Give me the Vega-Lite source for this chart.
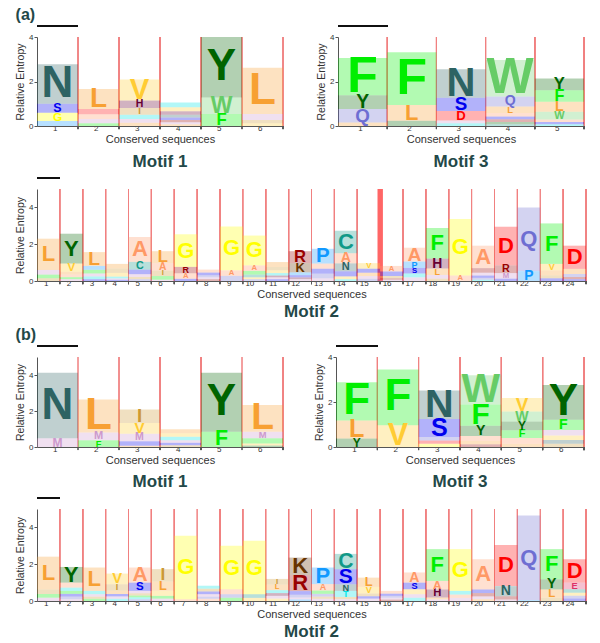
{
"$schema":"https://vega.github.io/schema/vega-lite/v6.json",
"background":"white",
"padding":{"left":15,"top":7,"right":5,"bottom":5},
"spacing":7,
"resolve":{"scale":{"size":"independent"}},
"config":{"view":{"stroke":null},"font":"Liberation Sans","axis":{"labelFont":"Liberation Sans","titleFont":"Liberation Sans"},"title":{"font":"Liberation Sans"}},
"vconcat":[
{"hconcat":[
{"width":246,"height":89,
"title":{"text":"Motif 1","orient":"bottom","fontSize":17,"fontWeight":"bold","color":"#234848","offset":10},
"data":{"values":[
{"pos":1,"aa":"P","bits":0.22},{"pos":1,"aa":"G","bits":0.38},{"pos":1,"aa":"S","bits":0.4},{"pos":1,"aa":"N","bits":1.77},
{"pos":2,"aa":"F","bits":0.12},{"pos":2,"aa":"M","bits":0.2},{"pos":2,"aa":"A","bits":0.21},{"pos":2,"aa":"D","bits":0.23},{"pos":2,"aa":"L","bits":0.9},
{"pos":3,"aa":"L","bits":0.15},{"pos":3,"aa":"M","bits":0.16},{"pos":3,"aa":"T","bits":0.2},{"pos":3,"aa":"I","bits":0.3},{"pos":3,"aa":"H","bits":0.34},{"pos":3,"aa":"V","bits":0.94},
{"pos":4,"aa":"L","bits":0.08},{"pos":4,"aa":"M","bits":0.09},{"pos":4,"aa":"R","bits":0.1},{"pos":4,"aa":"S","bits":0.11},{"pos":4,"aa":"N","bits":0.13},{"pos":4,"aa":"H","bits":0.15},{"pos":4,"aa":"V","bits":0.18},{"pos":4,"aa":"T","bits":0.22},
{"pos":5,"aa":"F","bits":0.54},{"pos":5,"aa":"W","bits":0.74},{"pos":5,"aa":"Y","bits":2.72},
{"pos":6,"aa":"V","bits":0.12},{"pos":6,"aa":"I","bits":0.15},{"pos":6,"aa":"M","bits":0.27},{"pos":6,"aa":"L","bits":2.08}
]},
"transform":[{"stack":"bits","groupby":["pos"],"sort":[{"field":"bits","order":"ascending"}],"as":["b0","b1"]}],
"layer":[
{"mark":{"type":"rule","color":"#f08080","strokeWidth":1},"encoding":{"x":{"field":"pos","type":"ordinal","bandPosition":1,"title":"Conserved sequences"}}},
{"mark":{"type":"rule","color":"#555","strokeWidth":1,"clip":false},"encoding":{"x":{"field":"pos","type":"ordinal","bandPosition":1,"title":"Conserved sequences"},"y":{"datum":0,"type":"quantitative"},"y2":{"datum":-0.14}}},
{"mark":{"type":"bar","fillOpacity":0.3},"encoding":{
"x":{"field":"pos","type":"ordinal","scale":{"paddingInner":0,"paddingOuter":0},"axis":{"title":"Conserved sequences","titleFontSize":11,"titleFontWeight":"normal","titleColor":"#333","titlePadding":1,"labelFontSize":8,"labelAngle":0,"labelColor":"#333","labelPadding":2,"ticks":false,"domainColor":"#555","grid":false}},
"y":{"field":"b0","type":"quantitative","scale":{"domain":[0,4],"nice":false},"axis":{"title":"Relative Entropy","titleFontSize":10.5,"titleFontWeight":"normal","titleColor":"#333","titlePadding":3,"labelFontSize":8,"labelColor":"#333","labelPadding":1,"labelOverlap":false,"tickSize":3,"tickColor":"#555","domainColor":"#555","values":[0,1,2,3,4],"grid":false}},
"y2":{"field":"b1"},
"color":{"field":"aa","type":"nominal","legend":null,"scale":{"domain":["A","C","D","E","F","G","H","I","K","L","M","N","P","Q","R","S","T","V","W","Y"],"range":["#ff9966","#119988","#ff0000","#dd3366","#00ee00","#ffff00","#660033","#cc9933","#663300","#f7a033","#cc99cc","#2d6363","#1199ff","#6e6ed2","#990000","#0000ee","#00e5e5","#ffcc33","#66cc66","#006400"]}}}},
{"transform":[{"filter":"datum.bits >= 0.3"},{"fold":["b0","b1"],"as":["edge","yv"]},{"aggregate":[{"op":"mean","field":"yv","as":"ymid"},{"op":"max","field":"bits","as":"h"}],"groupby":["pos","aa"]}],
"mark":{"type":"text","fontWeight":"bold","baseline":"middle","align":"center"},"encoding":{
"x":{"field":"pos","type":"ordinal","title":"Conserved sequences"},
"y":{"field":"ymid","type":"quantitative","title":"Relative Entropy"},
"text":{"field":"aa"},
"size":{"field":"h","type":"quantitative","scale":{"type":"linear","domain":[0,1.416],"range":[0,44],"clamp":true},"legend":null},
"color":{"field":"aa","type":"nominal","legend":null}}},
{"mark":{"type":"bar","color":"#111","clip":false},"encoding":{"x":{"datum":1,"type":"ordinal"},"y":{"datum":4.46,"type":"quantitative"},"y2":{"datum":4.53}}}
]},
{"width":246,"height":89,
"title":{"text":"Motif 3","orient":"bottom","fontSize":17,"fontWeight":"bold","color":"#234848","offset":10},
"data":{"values":[
{"pos":1,"aa":"L","bits":0.16},{"pos":1,"aa":"Q","bits":0.6},{"pos":1,"aa":"Y","bits":0.62},{"pos":1,"aa":"F","bits":1.68},
{"pos":2,"aa":"Y","bits":0.24},{"pos":2,"aa":"L","bits":0.7},{"pos":2,"aa":"F","bits":2.38},
{"pos":3,"aa":"T","bits":0.12},{"pos":3,"aa":"M","bits":0.13},{"pos":3,"aa":"D","bits":0.42},{"pos":3,"aa":"S","bits":0.6},{"pos":3,"aa":"N","bits":1.28},
{"pos":4,"aa":"C","bits":0.08},{"pos":4,"aa":"Y","bits":0.1},{"pos":4,"aa":"R","bits":0.12},{"pos":4,"aa":"S","bits":0.13},{"pos":4,"aa":"A","bits":0.15},{"pos":4,"aa":"L","bits":0.3},{"pos":4,"aa":"Q","bits":0.45},{"pos":4,"aa":"W","bits":1.64},
{"pos":5,"aa":"T","bits":0.08},{"pos":5,"aa":"S","bits":0.1},{"pos":5,"aa":"A","bits":0.11},{"pos":5,"aa":"W","bits":0.35},{"pos":5,"aa":"L","bits":0.45},{"pos":5,"aa":"F","bits":0.52},{"pos":5,"aa":"Y","bits":0.53}
]},
"transform":[{"stack":"bits","groupby":["pos"],"sort":[{"field":"bits","order":"ascending"}],"as":["b0","b1"]}],
"layer":[
{"mark":{"type":"rule","color":"#f08080","strokeWidth":1},"encoding":{"x":{"field":"pos","type":"ordinal","bandPosition":1,"title":"Conserved sequences"}}},
{"mark":{"type":"rule","color":"#555","strokeWidth":1,"clip":false},"encoding":{"x":{"field":"pos","type":"ordinal","bandPosition":1,"title":"Conserved sequences"},"y":{"datum":0,"type":"quantitative"},"y2":{"datum":-0.14}}},
{"mark":{"type":"bar","fillOpacity":0.3},"encoding":{
"x":{"field":"pos","type":"ordinal","scale":{"paddingInner":0,"paddingOuter":0},"axis":{"title":"Conserved sequences","titleFontSize":11,"titleFontWeight":"normal","titleColor":"#333","titlePadding":1,"labelFontSize":8,"labelAngle":0,"labelColor":"#333","labelPadding":2,"ticks":false,"domainColor":"#555","grid":false}},
"y":{"field":"b0","type":"quantitative","scale":{"domain":[0,4],"nice":false},"axis":{"title":"Relative Entropy","titleFontSize":10.5,"titleFontWeight":"normal","titleColor":"#333","titlePadding":3,"labelFontSize":8,"labelColor":"#333","labelPadding":1,"labelOverlap":false,"tickSize":3,"tickColor":"#555","domainColor":"#555","values":[0,1,2,3,4],"grid":false}},
"y2":{"field":"b1"},
"color":{"field":"aa","type":"nominal","legend":null,"scale":{"domain":["A","C","D","E","F","G","H","I","K","L","M","N","P","Q","R","S","T","V","W","Y"],"range":["#ff9966","#119988","#ff0000","#dd3366","#00ee00","#ffff00","#660033","#cc9933","#663300","#f7a033","#cc99cc","#2d6363","#1199ff","#6e6ed2","#990000","#0000ee","#00e5e5","#ffcc33","#66cc66","#006400"]}}}},
{"transform":[{"filter":"datum.bits >= 0.3"},{"fold":["b0","b1"],"as":["edge","yv"]},{"aggregate":[{"op":"mean","field":"yv","as":"ymid"},{"op":"max","field":"bits","as":"h"}],"groupby":["pos","aa"]}],
"mark":{"type":"text","fontWeight":"bold","baseline":"middle","align":"center"},"encoding":{
"x":{"field":"pos","type":"ordinal","title":"Conserved sequences"},
"y":{"field":"ymid","type":"quantitative","title":"Relative Entropy"},
"text":{"field":"aa"},
"size":{"field":"h","type":"quantitative","scale":{"type":"linear","domain":[0,1.598],"range":[0,50],"clamp":true},"legend":null},
"color":{"field":"aa","type":"nominal","legend":null}}},
{"mark":{"type":"bar","color":"#111","clip":false},"encoding":{"x":{"datum":1,"type":"ordinal"},"y":{"datum":4.46,"type":"quantitative"},"y2":{"datum":4.53}}}
]}
],"spacing":32,"resolve":{"scale":{"size":"independent"}},"title":{"text":"(a)","anchor":"start","frame":"bounds","fontSize":16,"fontWeight":"bold","color":"#234848","offset":2}},
{"width":549,"height":92,
"title":{"text":"Motif 2","orient":"bottom","fontSize":17,"fontWeight":"bold","color":"#234848","offset":5},
"data":{"values":[
{"pos":1,"aa":"I","bits":0.15},{"pos":1,"aa":"F","bits":0.2},{"pos":1,"aa":"M","bits":0.25},{"pos":1,"aa":"L","bits":1.7},
{"pos":2,"aa":"M","bits":0.1},{"pos":2,"aa":"F","bits":0.11},{"pos":2,"aa":"A","bits":0.14},{"pos":2,"aa":"L","bits":0.15},{"pos":2,"aa":"V","bits":0.45},{"pos":2,"aa":"Y","bits":1.62},
{"pos":3,"aa":"S","bits":0.1},{"pos":3,"aa":"T","bits":0.15},{"pos":3,"aa":"M","bits":0.16},{"pos":3,"aa":"F","bits":0.2},{"pos":3,"aa":"P","bits":0.21},{"pos":3,"aa":"L","bits":0.75},
{"pos":4,"aa":"S","bits":0.07},{"pos":4,"aa":"M","bits":0.07},{"pos":4,"aa":"T","bits":0.1},{"pos":4,"aa":"V","bits":0.2},{"pos":4,"aa":"I","bits":0.24},{"pos":4,"aa":"L","bits":0.25},
{"pos":5,"aa":"Q","bits":0.1},{"pos":5,"aa":"I","bits":0.12},{"pos":5,"aa":"M","bits":0.15},{"pos":5,"aa":"S","bits":0.25},{"pos":5,"aa":"C","bits":0.42},{"pos":5,"aa":"A","bits":1.35},
{"pos":6,"aa":"M","bits":0.07},{"pos":6,"aa":"F","bits":0.2},{"pos":6,"aa":"I","bits":0.3},{"pos":6,"aa":"A","bits":0.4},{"pos":6,"aa":"L","bits":0.65},
{"pos":7,"aa":"S","bits":0.12},{"pos":7,"aa":"A","bits":0.3},{"pos":7,"aa":"R","bits":0.35},{"pos":7,"aa":"G","bits":1.77},
{"pos":8,"aa":"R","bits":0.1},{"pos":8,"aa":"M","bits":0.1},{"pos":8,"aa":"Q","bits":0.11},{"pos":8,"aa":"S","bits":0.15},{"pos":8,"aa":"A","bits":0.16},
{"pos":9,"aa":"Q","bits":0.28},{"pos":9,"aa":"A","bits":0.3},{"pos":9,"aa":"G","bits":2.38},
{"pos":10,"aa":"Q","bits":0.1},{"pos":10,"aa":"V","bits":0.1},{"pos":10,"aa":"C","bits":0.15},{"pos":10,"aa":"F","bits":0.2},{"pos":10,"aa":"A","bits":0.3},{"pos":10,"aa":"G","bits":1.62},
{"pos":11,"aa":"S","bits":0.1},{"pos":11,"aa":"M","bits":0.1},{"pos":11,"aa":"H","bits":0.1},{"pos":11,"aa":"T","bits":0.13},{"pos":11,"aa":"V","bits":0.15},{"pos":11,"aa":"I","bits":0.18},{"pos":11,"aa":"L","bits":0.27},
{"pos":12,"aa":"M","bits":0.1},{"pos":12,"aa":"H","bits":0.1},{"pos":12,"aa":"S","bits":0.12},{"pos":12,"aa":"P","bits":0.15},{"pos":12,"aa":"K","bits":0.5},{"pos":12,"aa":"R","bits":0.65},
{"pos":13,"aa":"M","bits":0.15},{"pos":13,"aa":"Q","bits":0.25},{"pos":13,"aa":"S","bits":0.27},{"pos":13,"aa":"A","bits":0.28},{"pos":13,"aa":"P","bits":0.8},
{"pos":14,"aa":"T","bits":0.1},{"pos":14,"aa":"V","bits":0.15},{"pos":14,"aa":"S","bits":0.28},{"pos":14,"aa":"N","bits":0.43},{"pos":14,"aa":"A","bits":0.55},{"pos":14,"aa":"C","bits":1.22},
{"pos":15,"aa":"Q","bits":0.12},{"pos":15,"aa":"M","bits":0.15},{"pos":15,"aa":"L","bits":0.18},{"pos":15,"aa":"S","bits":0.22},{"pos":15,"aa":"V","bits":0.3},
{"pos":16,"aa":"M","bits":0.07},{"pos":16,"aa":"R","bits":0.08},{"pos":16,"aa":"I","bits":0.12},{"pos":16,"aa":"S","bits":0.25},{"pos":16,"aa":"A","bits":0.3},
{"pos":17,"aa":"M","bits":0.2},{"pos":17,"aa":"T","bits":0.21},{"pos":17,"aa":"S","bits":0.3},{"pos":17,"aa":"P","bits":0.35},{"pos":17,"aa":"A","bits":0.75},
{"pos":18,"aa":"I","bits":0.13},{"pos":18,"aa":"M","bits":0.2},{"pos":18,"aa":"L","bits":0.35},{"pos":18,"aa":"H","bits":0.54},{"pos":18,"aa":"F","bits":1.66},
{"pos":19,"aa":"A","bits":0.3},{"pos":19,"aa":"G","bits":3.07},
{"pos":20,"aa":"T","bits":0.07},{"pos":20,"aa":"Q","bits":0.1},{"pos":20,"aa":"S","bits":0.13},{"pos":20,"aa":"M","bits":0.15},{"pos":20,"aa":"R","bits":0.25},{"pos":20,"aa":"A","bits":1.22},
{"pos":21,"aa":"S","bits":0.13},{"pos":21,"aa":"M","bits":0.3},{"pos":21,"aa":"R","bits":0.42},{"pos":21,"aa":"D","bits":2.1},
{"pos":22,"aa":"P","bits":0.54},{"pos":22,"aa":"Q","bits":3.46},
{"pos":23,"aa":"S","bits":0.15},{"pos":23,"aa":"I","bits":0.16},{"pos":23,"aa":"L","bits":0.27},{"pos":23,"aa":"V","bits":0.35},{"pos":23,"aa":"F","bits":2.2},
{"pos":24,"aa":"S","bits":0.1},{"pos":24,"aa":"R","bits":0.12},{"pos":24,"aa":"Q","bits":0.16},{"pos":24,"aa":"L","bits":0.28},{"pos":24,"aa":"D","bits":1.26}
]},
"transform":[{"stack":"bits","groupby":["pos"],"sort":[{"field":"bits","order":"ascending"}],"as":["b0","b1"]}],
"layer":[
{"mark":{"type":"rule","color":"#f08080","strokeWidth":1},"encoding":{"x":{"field":"pos","type":"ordinal","bandPosition":1,"title":"Conserved sequences"}}},
{"transform":[{"filter":"datum.pos == 15"}],"mark":{"type":"rule","color":"#ff6666","strokeWidth":4.5},"encoding":{"x":{"field":"pos","type":"ordinal","bandPosition":1,"title":"Conserved sequences"}}},
{"mark":{"type":"rule","color":"#555","strokeWidth":1,"clip":false},"encoding":{"x":{"field":"pos","type":"ordinal","bandPosition":1,"title":"Conserved sequences"},"y":{"datum":0,"type":"quantitative"},"y2":{"datum":-0.17}}},
{"mark":{"type":"bar","fillOpacity":0.3},"encoding":{
"x":{"field":"pos","type":"ordinal","scale":{"paddingInner":0,"paddingOuter":0},"axis":{"title":"Conserved sequences","titleFontSize":11,"titleFontWeight":"normal","titleColor":"#333","titlePadding":1,"labelFontSize":8,"labelAngle":0,"labelColor":"#333","labelPadding":2,"ticks":false,"domainColor":"#555","grid":false}},
"y":{"field":"b0","type":"quantitative","scale":{"domain":[0,5],"nice":false},"axis":{"title":"Relative Entropy","titleFontSize":10.5,"titleFontWeight":"normal","titleColor":"#333","titlePadding":3,"labelFontSize":8,"labelColor":"#333","labelPadding":1,"labelOverlap":false,"tickSize":3,"tickColor":"#555","domainColor":"#555","values":[0,1,2,3,4,5],"grid":false}},
"y2":{"field":"b1"},
"color":{"field":"aa","type":"nominal","legend":null,"scale":{"domain":["A","C","D","E","F","G","H","I","K","L","M","N","P","Q","R","S","T","V","W","Y"],"range":["#ff9966","#119988","#ff0000","#dd3366","#00ee00","#ffff00","#660033","#cc9933","#663300","#f7a033","#cc99cc","#2d6363","#1199ff","#6e6ed2","#990000","#0000ee","#00e5e5","#ffcc33","#66cc66","#006400"]}}}},
{"transform":[{"filter":"datum.bits >= 0.3"},{"fold":["b0","b1"],"as":["edge","yv"]},{"aggregate":[{"op":"mean","field":"yv","as":"ymid"},{"op":"max","field":"bits","as":"h"}],"groupby":["pos","aa"]}],
"mark":{"type":"text","fontWeight":"bold","baseline":"middle","align":"center"},"encoding":{
"x":{"field":"pos","type":"ordinal","title":"Conserved sequences"},
"y":{"field":"ymid","type":"quantitative","title":"Relative Entropy"},
"text":{"field":"aa"},
"size":{"field":"h","type":"quantitative","scale":{"type":"linear","domain":[0,0.856],"range":[0,22],"clamp":true},"legend":null},
"color":{"field":"aa","type":"nominal","legend":null}}},
{"mark":{"type":"bar","color":"#111","clip":false},"encoding":{"x":{"datum":1,"type":"ordinal"},"y":{"datum":5.57,"type":"quantitative"},"y2":{"datum":5.65}}}
]},
{"hconcat":[
{"width":246,"height":90,
"title":{"text":"Motif 1","orient":"bottom","fontSize":17,"fontWeight":"bold","color":"#234848","offset":9},
"data":{"values":[
{"pos":1,"aa":"M","bits":0.48},{"pos":1,"aa":"N","bits":3.65},
{"pos":2,"aa":"F","bits":0.37},{"pos":2,"aa":"M","bits":0.44},{"pos":2,"aa":"L","bits":1.83},
{"pos":3,"aa":"L","bits":0.07},{"pos":3,"aa":"S","bits":0.25},{"pos":3,"aa":"M","bits":0.42},{"pos":3,"aa":"V","bits":0.6},{"pos":3,"aa":"I","bits":0.74},
{"pos":4,"aa":"I","bits":0.1},{"pos":4,"aa":"S","bits":0.13},{"pos":4,"aa":"M","bits":0.15},{"pos":4,"aa":"T","bits":0.19},{"pos":4,"aa":"V","bits":0.2},{"pos":4,"aa":"L","bits":0.21},
{"pos":5,"aa":"F","bits":0.85},{"pos":5,"aa":"Y","bits":3.28},
{"pos":6,"aa":"Y","bits":0.08},{"pos":6,"aa":"V","bits":0.12},{"pos":6,"aa":"F","bits":0.28},{"pos":6,"aa":"M","bits":0.37},{"pos":6,"aa":"L","bits":1.48}
]},
"transform":[{"stack":"bits","groupby":["pos"],"sort":[{"field":"bits","order":"ascending"}],"as":["b0","b1"]}],
"layer":[
{"mark":{"type":"rule","color":"#f08080","strokeWidth":1},"encoding":{"x":{"field":"pos","type":"ordinal","bandPosition":1,"title":"Conserved sequences"}}},
{"mark":{"type":"rule","color":"#555","strokeWidth":1,"clip":false},"encoding":{"x":{"field":"pos","type":"ordinal","bandPosition":1,"title":"Conserved sequences"},"y":{"datum":0,"type":"quantitative"},"y2":{"datum":-0.17}}},
{"mark":{"type":"bar","fillOpacity":0.3},"encoding":{
"x":{"field":"pos","type":"ordinal","scale":{"paddingInner":0,"paddingOuter":0},"axis":{"title":"Conserved sequences","titleFontSize":11,"titleFontWeight":"normal","titleColor":"#333","titlePadding":1,"labelFontSize":8,"labelAngle":0,"labelColor":"#333","labelPadding":2,"ticks":false,"domainColor":"#555","grid":false}},
"y":{"field":"b0","type":"quantitative","scale":{"domain":[0,5],"nice":false},"axis":{"title":"Relative Entropy","titleFontSize":10.5,"titleFontWeight":"normal","titleColor":"#333","titlePadding":3,"labelFontSize":8,"labelColor":"#333","labelPadding":1,"labelOverlap":false,"tickSize":3,"tickColor":"#555","domainColor":"#555","values":[0,1,2,3,4,5],"grid":false}},
"y2":{"field":"b1"},
"color":{"field":"aa","type":"nominal","legend":null,"scale":{"domain":["A","C","D","E","F","G","H","I","K","L","M","N","P","Q","R","S","T","V","W","Y"],"range":["#ff9966","#119988","#ff0000","#dd3366","#00ee00","#ffff00","#660033","#cc9933","#663300","#f7a033","#cc99cc","#2d6363","#1199ff","#6e6ed2","#990000","#0000ee","#00e5e5","#ffcc33","#66cc66","#006400"]}}}},
{"transform":[{"filter":"datum.bits >= 0.3"},{"fold":["b0","b1"],"as":["edge","yv"]},{"aggregate":[{"op":"mean","field":"yv","as":"ymid"},{"op":"max","field":"bits","as":"h"}],"groupby":["pos","aa"]}],
"mark":{"type":"text","fontWeight":"bold","baseline":"middle","align":"center"},"encoding":{
"x":{"field":"pos","type":"ordinal","title":"Conserved sequences"},
"y":{"field":"ymid","type":"quantitative","title":"Relative Entropy"},
"text":{"field":"aa"},
"size":{"field":"h","type":"quantitative","scale":{"type":"linear","domain":[0,1.75],"range":[0,44],"clamp":true},"legend":null},
"color":{"field":"aa","type":"nominal","legend":null}}},
{"mark":{"type":"bar","color":"#111","clip":false},"encoding":{"x":{"datum":1,"type":"ordinal"},"y":{"datum":5.55,"type":"quantitative"},"y2":{"datum":5.63}}}
]},
{"width":248,"height":90,
"title":{"text":"Motif 3","orient":"bottom","fontSize":17,"fontWeight":"bold","color":"#234848","offset":9},
"data":{"values":[
{"pos":1,"aa":"Y","bits":0.38},{"pos":1,"aa":"L","bits":0.8},{"pos":1,"aa":"F","bits":1.7},
{"pos":2,"aa":"V","bits":0.97},{"pos":2,"aa":"F","bits":2.47},
{"pos":3,"aa":"G","bits":0.14},{"pos":3,"aa":"D","bits":0.15},{"pos":3,"aa":"Q","bits":0.16},{"pos":3,"aa":"S","bits":0.8},{"pos":3,"aa":"N","bits":1.26},
{"pos":4,"aa":"R","bits":0.12},{"pos":4,"aa":"L","bits":0.15},{"pos":4,"aa":"A","bits":0.22},{"pos":4,"aa":"Y","bits":0.45},{"pos":4,"aa":"F","bits":0.95},{"pos":4,"aa":"W","bits":1.3},
{"pos":5,"aa":"L","bits":0.15},{"pos":5,"aa":"A","bits":0.25},{"pos":5,"aa":"F","bits":0.35},{"pos":5,"aa":"Y","bits":0.38},{"pos":5,"aa":"W","bits":0.45},{"pos":5,"aa":"V","bits":0.6},
{"pos":6,"aa":"I","bits":0.15},{"pos":6,"aa":"N","bits":0.16},{"pos":6,"aa":"V","bits":0.2},{"pos":6,"aa":"M","bits":0.25},{"pos":6,"aa":"F","bits":0.45},{"pos":6,"aa":"Y","bits":1.55}
]},
"transform":[{"stack":"bits","groupby":["pos"],"sort":[{"field":"bits","order":"ascending"}],"as":["b0","b1"]}],
"layer":[
{"mark":{"type":"rule","color":"#f08080","strokeWidth":1},"encoding":{"x":{"field":"pos","type":"ordinal","bandPosition":1,"title":"Conserved sequences"}}},
{"mark":{"type":"rule","color":"#555","strokeWidth":1,"clip":false},"encoding":{"x":{"field":"pos","type":"ordinal","bandPosition":1,"title":"Conserved sequences"},"y":{"datum":0,"type":"quantitative"},"y2":{"datum":-0.14}}},
{"mark":{"type":"bar","fillOpacity":0.3},"encoding":{
"x":{"field":"pos","type":"ordinal","scale":{"paddingInner":0,"paddingOuter":0},"axis":{"title":"Conserved sequences","titleFontSize":11,"titleFontWeight":"normal","titleColor":"#333","titlePadding":1,"labelFontSize":8,"labelAngle":0,"labelColor":"#333","labelPadding":2,"ticks":false,"domainColor":"#555","grid":false}},
"y":{"field":"b0","type":"quantitative","scale":{"domain":[0,4],"nice":false},"axis":{"title":"Relative Entropy","titleFontSize":10.5,"titleFontWeight":"normal","titleColor":"#333","titlePadding":3,"labelFontSize":8,"labelColor":"#333","labelPadding":1,"labelOverlap":false,"tickSize":3,"tickColor":"#555","domainColor":"#555","values":[0,1,2,3,4],"grid":false}},
"y2":{"field":"b1"},
"color":{"field":"aa","type":"nominal","legend":null,"scale":{"domain":["A","C","D","E","F","G","H","I","K","L","M","N","P","Q","R","S","T","V","W","Y"],"range":["#ff9966","#119988","#ff0000","#dd3366","#00ee00","#ffff00","#660033","#cc9933","#663300","#f7a033","#cc99cc","#2d6363","#1199ff","#6e6ed2","#990000","#0000ee","#00e5e5","#ffcc33","#66cc66","#006400"]}}}},
{"transform":[{"filter":"datum.bits >= 0.3"},{"fold":["b0","b1"],"as":["edge","yv"]},{"aggregate":[{"op":"mean","field":"yv","as":"ymid"},{"op":"max","field":"bits","as":"h"}],"groupby":["pos","aa"]}],
"mark":{"type":"text","fontWeight":"bold","baseline":"middle","align":"center"},"encoding":{
"x":{"field":"pos","type":"ordinal","title":"Conserved sequences"},
"y":{"field":"ymid","type":"quantitative","title":"Relative Entropy"},
"text":{"field":"aa"},
"size":{"field":"h","type":"quantitative","scale":{"type":"linear","domain":[0,1.4],"range":[0,44],"clamp":true},"legend":null},
"color":{"field":"aa","type":"nominal","legend":null}}},
{"mark":{"type":"bar","color":"#111","clip":false},"encoding":{"x":{"datum":1,"type":"ordinal"},"y":{"datum":4.45,"type":"quantitative"},"y2":{"datum":4.52}}}
]}
],"spacing":30,"resolve":{"scale":{"size":"independent"}},"title":{"text":"(b)","anchor":"start","frame":"bounds","fontSize":16,"fontWeight":"bold","color":"#234848","offset":2}},
{"width":549,"height":92,
"title":{"text":"Motif 2","orient":"bottom","fontSize":17,"fontWeight":"bold","color":"#234848","offset":5},
"data":{"values":[
{"pos":1,"aa":"M","bits":0.18},{"pos":1,"aa":"F","bits":0.2},{"pos":1,"aa":"I","bits":0.25},{"pos":1,"aa":"L","bits":1.78},
{"pos":2,"aa":"M","bits":0.1},{"pos":2,"aa":"Q","bits":0.14},{"pos":2,"aa":"S","bits":0.15},{"pos":2,"aa":"F","bits":0.16},{"pos":2,"aa":"T","bits":0.18},{"pos":2,"aa":"A","bits":0.27},{"pos":2,"aa":"Y","bits":0.85},
{"pos":3,"aa":"F","bits":0.12},{"pos":3,"aa":"I","bits":0.12},{"pos":3,"aa":"M","bits":0.13},{"pos":3,"aa":"T","bits":0.18},{"pos":3,"aa":"L","bits":1.27},
{"pos":4,"aa":"T","bits":0.12},{"pos":4,"aa":"M","bits":0.13},{"pos":4,"aa":"S","bits":0.13},{"pos":4,"aa":"L","bits":0.18},{"pos":4,"aa":"I","bits":0.35},{"pos":4,"aa":"V","bits":0.58},
{"pos":5,"aa":"Q","bits":0.1},{"pos":5,"aa":"T","bits":0.1},{"pos":5,"aa":"F","bits":0.1},{"pos":5,"aa":"I","bits":0.12},{"pos":5,"aa":"M","bits":0.13},{"pos":5,"aa":"S","bits":0.45},{"pos":5,"aa":"A","bits":0.82},
{"pos":6,"aa":"M","bits":0.13},{"pos":6,"aa":"F","bits":0.15},{"pos":6,"aa":"V","bits":0.28},{"pos":6,"aa":"L","bits":0.5},{"pos":6,"aa":"I","bits":0.67},
{"pos":7,"aa":"A","bits":0.1},{"pos":7,"aa":"G","bits":3.45},
{"pos":8,"aa":"A","bits":0.12},{"pos":8,"aa":"Q","bits":0.12},{"pos":8,"aa":"M","bits":0.13},{"pos":8,"aa":"S","bits":0.15},{"pos":8,"aa":"I","bits":0.15},{"pos":8,"aa":"T","bits":0.16},
{"pos":9,"aa":"F","bits":0.18},{"pos":9,"aa":"Q","bits":0.19},{"pos":9,"aa":"A","bits":0.27},{"pos":9,"aa":"G","bits":2.36},
{"pos":10,"aa":"V","bits":0.17},{"pos":10,"aa":"C","bits":0.2},{"pos":10,"aa":"G","bits":2.9},
{"pos":11,"aa":"V","bits":0.13},{"pos":11,"aa":"M","bits":0.15},{"pos":11,"aa":"H","bits":0.15},{"pos":11,"aa":"T","bits":0.16},{"pos":11,"aa":"L","bits":0.3},{"pos":11,"aa":"I","bits":0.31},
{"pos":12,"aa":"P","bits":0.09},{"pos":12,"aa":"M","bits":0.1},{"pos":12,"aa":"Q","bits":0.15},{"pos":12,"aa":"S","bits":0.2},{"pos":12,"aa":"R","bits":0.87},{"pos":12,"aa":"K","bits":0.95},
{"pos":13,"aa":"M","bits":0.12},{"pos":13,"aa":"I","bits":0.12},{"pos":13,"aa":"Q","bits":0.15},{"pos":13,"aa":"F","bits":0.18},{"pos":13,"aa":"A","bits":0.35},{"pos":13,"aa":"P","bits":0.9},
{"pos":14,"aa":"M","bits":0.1},{"pos":14,"aa":"I","bits":0.12},{"pos":14,"aa":"T","bits":0.33},{"pos":14,"aa":"N","bits":0.36},{"pos":14,"aa":"S","bits":0.82},{"pos":14,"aa":"C","bits":0.83},
{"pos":15,"aa":"M","bits":0.13},{"pos":15,"aa":"S","bits":0.13},{"pos":15,"aa":"I","bits":0.15},{"pos":15,"aa":"V","bits":0.36},{"pos":15,"aa":"L","bits":0.5},
{"pos":16,"aa":"R","bits":0.08},{"pos":16,"aa":"M","bits":0.1},{"pos":16,"aa":"Q","bits":0.1},{"pos":16,"aa":"S","bits":0.12},{"pos":16,"aa":"A","bits":0.15},
{"pos":17,"aa":"T","bits":0.18},{"pos":17,"aa":"M","bits":0.19},{"pos":17,"aa":"V","bits":0.27},{"pos":17,"aa":"S","bits":0.36},{"pos":17,"aa":"A","bits":0.55},
{"pos":18,"aa":"M","bits":0.09},{"pos":18,"aa":"L","bits":0.1},{"pos":18,"aa":"H","bits":0.44},{"pos":18,"aa":"A","bits":0.46},{"pos":18,"aa":"F","bits":1.73},
{"pos":19,"aa":"M","bits":0.17},{"pos":19,"aa":"A","bits":0.18},{"pos":19,"aa":"T","bits":0.2},{"pos":19,"aa":"G","bits":2.27},
{"pos":20,"aa":"L","bits":0.1},{"pos":20,"aa":"M","bits":0.15},{"pos":20,"aa":"R","bits":0.18},{"pos":20,"aa":"S","bits":0.2},{"pos":20,"aa":"A","bits":1.64},
{"pos":21,"aa":"M","bits":0.08},{"pos":21,"aa":"R","bits":0.18},{"pos":21,"aa":"N","bits":0.55},{"pos":21,"aa":"D","bits":2.24},
{"pos":22,"aa":"P","bits":0.05},{"pos":22,"aa":"Q","bits":4.6},
{"pos":23,"aa":"I","bits":0.18},{"pos":23,"aa":"L","bits":0.45},{"pos":23,"aa":"Y","bits":0.55},{"pos":23,"aa":"F","bits":1.64},
{"pos":24,"aa":"S","bits":0.14},{"pos":24,"aa":"Q","bits":0.15},{"pos":24,"aa":"V","bits":0.16},{"pos":24,"aa":"C","bits":0.19},{"pos":24,"aa":"E","bits":0.36},{"pos":24,"aa":"D","bits":1.27}
]},
"transform":[{"stack":"bits","groupby":["pos"],"sort":[{"field":"bits","order":"ascending"}],"as":["b0","b1"]}],
"layer":[
{"mark":{"type":"rule","color":"#f08080","strokeWidth":1},"encoding":{"x":{"field":"pos","type":"ordinal","bandPosition":1,"title":"Conserved sequences"}}},
{"mark":{"type":"rule","color":"#555","strokeWidth":1,"clip":false},"encoding":{"x":{"field":"pos","type":"ordinal","bandPosition":1,"title":"Conserved sequences"},"y":{"datum":0,"type":"quantitative"},"y2":{"datum":-0.17}}},
{"mark":{"type":"bar","fillOpacity":0.3},"encoding":{
"x":{"field":"pos","type":"ordinal","scale":{"paddingInner":0,"paddingOuter":0},"axis":{"title":"Conserved sequences","titleFontSize":11,"titleFontWeight":"normal","titleColor":"#333","titlePadding":1,"labelFontSize":8,"labelAngle":0,"labelColor":"#333","labelPadding":2,"ticks":false,"domainColor":"#555","grid":false}},
"y":{"field":"b0","type":"quantitative","scale":{"domain":[0,5],"nice":false},"axis":{"title":"Relative Entropy","titleFontSize":10.5,"titleFontWeight":"normal","titleColor":"#333","titlePadding":3,"labelFontSize":8,"labelColor":"#333","labelPadding":1,"labelOverlap":false,"tickSize":3,"tickColor":"#555","domainColor":"#555","values":[0,1,2,3,4,5],"grid":false}},
"y2":{"field":"b1"},
"color":{"field":"aa","type":"nominal","legend":null,"scale":{"domain":["A","C","D","E","F","G","H","I","K","L","M","N","P","Q","R","S","T","V","W","Y"],"range":["#ff9966","#119988","#ff0000","#dd3366","#00ee00","#ffff00","#660033","#cc9933","#663300","#f7a033","#cc99cc","#2d6363","#1199ff","#6e6ed2","#990000","#0000ee","#00e5e5","#ffcc33","#66cc66","#006400"]}}}},
{"transform":[{"filter":"datum.bits >= 0.3"},{"fold":["b0","b1"],"as":["edge","yv"]},{"aggregate":[{"op":"mean","field":"yv","as":"ymid"},{"op":"max","field":"bits","as":"h"}],"groupby":["pos","aa"]}],
"mark":{"type":"text","fontWeight":"bold","baseline":"middle","align":"center"},"encoding":{
"x":{"field":"pos","type":"ordinal","title":"Conserved sequences"},
"y":{"field":"ymid","type":"quantitative","title":"Relative Entropy"},
"text":{"field":"aa"},
"size":{"field":"h","type":"quantitative","scale":{"type":"linear","domain":[0,0.861],"range":[0,22],"clamp":true},"legend":null},
"color":{"field":"aa","type":"nominal","legend":null}}},
{"mark":{"type":"bar","color":"#111","clip":false},"encoding":{"x":{"datum":1,"type":"ordinal"},"y":{"datum":5.57,"type":"quantitative"},"y2":{"datum":5.65}}}
]}
]
}
